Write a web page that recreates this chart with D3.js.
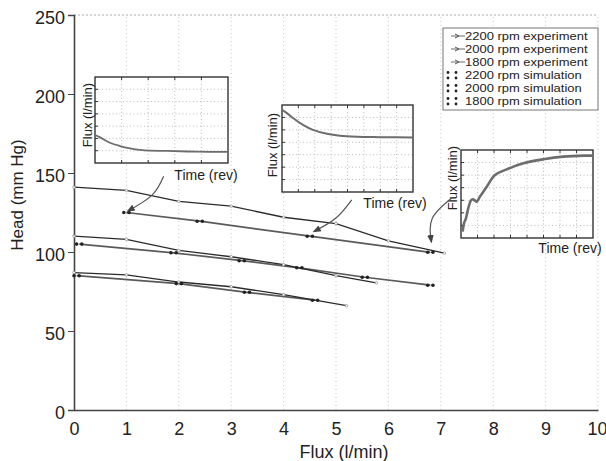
<!DOCTYPE html>
<html>
<head>
<meta charset="utf-8">
<script src="https://cdn.jsdelivr.net/npm/d3@7"></script>
<style>
body{margin:0;background:#fff;}
svg text{font-family:'Liberation Sans',Arial,sans-serif;fill:#222;}
</style>
</head>
<body>
<div id="canvas" class="canvas" style="width:606px;height:461px"></div>
<script>
// ---- data ----
var xTicks = [0,1,2,3,4,5,6,7,8,9,10];
var yTicks = [0,50,100,150,200,250];
var legendLabels = ['2200 rpm experiment','2000 rpm experiment','1800 rpm experiment',
                    '2200 rpm simulation','2000 rpm simulation','1800 rpm simulation'];

// flux (l/min), head (mm Hg)
var exp2200 = [[0,141],[1,139],[2,132],[3,129],[4,122],[5,118],[6,107],[7.07,99.3]];
var exp2000 = [[0,110],[1,108],[2,101],[3,97],[4,92],[5,85],[5.77,80.5]];
var exp1800 = [[0,87],[1,85.5],[2,81],[3,78],[4,73],[5.2,66]];
var sim2200 = [[1.0,125],[2.4,119.5],[4.5,110],[6.8,99.8]];
var sim2000 = [[0.1,105],[1.9,99.5],[3.2,94.5],[4.3,90],[5.55,84],[6.8,79]];
var sim1800 = [[0.05,85],[2.0,80],[3.3,74.5],[4.6,69.5]];

// inset transients, in grid units (time, flux)
var inset1Time = [0,0.19,0.56,0.94,1.32,1.69,2.07,2.71,3.83,5];
var inset1Flux = [2.28,2.09,1.65,1.38,1.19,1.06,1.0,0.98,0.92,0.9];
var inset2Time = [0,0.3,0.67,1.28,1.89,2.74,3.54,4.57,5.98,8];
var inset2Flux = [6.6,6.35,5.95,5.4,5.0,4.68,4.52,4.44,4.41,4.38];
var inset3Time = [0.1,0.18,0.3,0.44,0.59,0.71,0.85,0.95,1.15,1.56,2.06,2.77,3.78,4.99,6.2,7.47,8];
var inset3Flux = [0.5,1.17,1.57,2.36,2.97,3.08,2.97,2.89,3.29,4.08,5.01,5.46,5.94,6.26,6.47,6.55,6.55];

// annotation arrows in main chart units
var arrow1 = [[1.71,148],[1.49,136],[1.03,126]];
var arrow2 = [[5.3,133],[5.0,121.5],[4.58,113]];
var arrow3 = [[7.22,134.5],[6.84,121.5],[6.82,106.5]];

// ---- layout ----
var W = 606, H = 461;
var m = {t:15, r:8, b:51, l:74};

var svg = d3.select('.canvas').append('svg')
    .attr('width', W).attr('height', H);

var x = d3.scaleLinear().domain([0,10]).range([m.l, W - m.r]);
var y = d3.scaleLinear().domain([0,250]).range([H - m.b, m.t]);

svg.append('defs').append('marker')
    .attr('id','arr').attr('viewBox','0 0 10 10')
    .attr('refX',8).attr('refY',5)
    .attr('markerWidth',7).attr('markerHeight',7)
    .attr('orient','auto')
    .append('path').attr('d','M0,1 L10,5 L0,9 z').attr('fill','#444');

//grid
svg.append('g').selectAll('line').data(xTicks.slice(1))
    .enter().append('line')
    .attr('x1',function(d){return x(d);}).attr('x2',function(d){return x(d);})
    .attr('y1',y(0)).attr('y2',y(250))
    .attr('stroke','#c8c8c8').attr('stroke-width',1).attr('stroke-dasharray','1,3');
svg.append('line')
    .attr('x1',x(0)).attr('x2',x(10)).attr('y1',y(250)).attr('y2',y(250))
    .attr('stroke','#aaa').attr('stroke-dasharray','2,2');

//axes
var xAxis = svg.append('g').attr('transform','translate(0,'+y(0)+')')
    .call(d3.axisBottom(x).tickValues(xTicks).tickSize(0).tickPadding(12));
var yAxis = svg.append('g').attr('transform','translate('+x(0)+',0)')
    .call(d3.axisLeft(y).tickValues(yTicks).tickSize(6).tickPadding(3));
[xAxis,yAxis].forEach(function(a){
    a.select('.domain').attr('stroke','#444').attr('stroke-width',1.6);
    a.selectAll('.tick line').attr('stroke','#444');
    a.selectAll('text').style('font-size','18px').style('fill','#222');
});
yAxis.selectAll('text').attr('dy','0.45em');
xAxis.selectAll('.tick text').filter(function(d){return d === 10;})
    .attr('text-anchor','end').attr('dx','9px');

svg.append('text').attr('x',(x(0)+x(10))/2+8).attr('y',458)
    .attr('text-anchor','middle').style('font-size','18px').text('Flux (l/min)');
svg.append('text').attr('transform','translate(23,195) rotate(-90)')
    .attr('text-anchor','middle').style('font-size','17px').text('Head (mm Hg)');

//series
var line = d3.line().x(function(d){return x(d[0]);}).y(function(d){return y(d[1]);});
var simSets = [sim2200, sim2000, sim1800];
var expSets = [exp2200, exp2000, exp1800];

svg.append('g').selectAll('path').data(simSets).enter().append('path')
    .attr('d',line).attr('fill','none').attr('stroke','#5a5a5a').attr('stroke-width',1.7);
svg.append('g').selectAll('path').data(expSets).enter().append('path')
    .attr('d',line).attr('fill','none').attr('stroke','#2b2b2b').attr('stroke-width',1.3);

expSets.forEach(function(s){
    svg.append('g').selectAll('circle').data(s).enter().append('circle')
        .attr('cx',function(d){return x(d[0]);}).attr('cy',function(d){return y(d[1]);})
        .attr('r',1.3).attr('fill','#fff').attr('stroke','#888').attr('stroke-width',0.7);
});
simSets.forEach(function(s){
    var g = svg.append('g').selectAll('g').data(s).enter().append('g')
        .attr('transform',function(d){return 'translate('+x(d[0])+','+y(d[1])+')';});
    g.append('circle').attr('cx',-2.6).attr('r',1.8).attr('fill','#222');
    g.append('circle').attr('cx',2.6).attr('r',1.8).attr('fill','#222');
});

//insets
var insets = [
    {box:[95,77,133,86], nx:5, ny:7, t:inset1Time, f:inset1Flux, sw:1.8,
     ylab:[87,115], xlab:[206,180]},
    {box:[282,105,131,87], nx:8, ny:7, t:inset2Time, f:inset2Flux, sw:2,
     ylab:[272,145], xlab:[395,208]},
    {box:[461,150,132,88], nx:8, ny:7, t:inset3Time, f:inset3Flux, sw:2.6,
     ylab:[452,178], xlab:[570,253]}
];

insets.forEach(function(ins){
    var b = ins.box;
    var ix = d3.scaleLinear().domain([0,ins.nx]).range([b[0], b[0]+b[2]]);
    var iy = d3.scaleLinear().domain([0,ins.ny]).range([b[1]+b[3], b[1]]);
    var g = svg.append('g');
    g.append('rect').attr('x',b[0]).attr('y',b[1]).attr('width',b[2]).attr('height',b[3])
        .attr('fill','#fff');
    g.selectAll('.vg').data(d3.range(1,ins.nx)).enter().append('line')
        .attr('x1',ix).attr('x2',ix).attr('y1',b[1]).attr('y2',b[1]+b[3])
        .attr('stroke','#bbb').attr('stroke-dasharray','1,2.5');
    g.selectAll('.hg').data(d3.range(1,ins.ny)).enter().append('line')
        .attr('y1',iy).attr('y2',iy).attr('x1',b[0]).attr('x2',b[0]+b[2])
        .attr('stroke','#bbb').attr('stroke-dasharray','1,2.5');
    //ticks on the frame
    g.selectAll('.tb').data(d3.range(1,ins.nx)).enter().append('line')
        .attr('x1',ix).attr('x2',ix).attr('y1',b[1]+b[3]).attr('y2',b[1]+b[3]-3)
        .attr('stroke','#333');
    g.selectAll('.tt').data(d3.range(1,ins.nx)).enter().append('line')
        .attr('x1',ix).attr('x2',ix).attr('y1',b[1]).attr('y2',b[1]+3)
        .attr('stroke','#333');
    g.selectAll('.tl').data(d3.range(1,ins.ny)).enter().append('line')
        .attr('y1',iy).attr('y2',iy).attr('x1',b[0]).attr('x2',b[0]+3)
        .attr('stroke','#333');
    g.append('rect').attr('x',b[0]).attr('y',b[1]).attr('width',b[2]).attr('height',b[3])
        .attr('fill','none').attr('stroke','#333').attr('stroke-width',1.4);
    var pts = ins.t.map(function(t,i){return [t, ins.f[i]];});
    g.append('path')
        .attr('d', d3.line().curve(d3.curveCatmullRom)
            .x(function(d){return ix(d[0]);}).y(function(d){return iy(d[1]);})(pts))
        .attr('fill','none').attr('stroke','#6d6d6d').attr('stroke-width',ins.sw);
    g.append('text').attr('transform','translate('+ins.ylab[0]+','+ins.ylab[1]+') rotate(-90)')
        .attr('text-anchor','middle').attr('dy','0.35em').style('font-size','13px').text('Flux (l/min)');
    g.append('text').attr('x',ins.xlab[0]).attr('y',ins.xlab[1])
        .attr('text-anchor','middle').style('font-size','14px').text('Time (rev)');
});

//arrows
var aline = d3.line().curve(d3.curveNatural)
    .x(function(d){return x(d[0]);}).y(function(d){return y(d[1]);});
svg.append('g').selectAll('path').data([arrow1,arrow2,arrow3]).enter().append('path')
    .attr('d',aline).attr('fill','none').attr('stroke','#555').attr('stroke-width',1.2)
    .attr('marker-end','url(#arr)');

//legend
var lg = svg.append('g');
lg.append('rect').attr('x',443).attr('y',28).attr('width',155).attr('height',82)
    .attr('fill','#fff').attr('stroke','#777').attr('stroke-width',1);
var ly = d3.scalePoint().domain(legendLabels).range([36,101]);
var rows = lg.selectAll('g').data(legendLabels).enter().append('g')
    .attr('transform',function(d){return 'translate(0,'+ly(d)+')';});
rows.append('text').attr('transform','translate(465,0) scale(1.18,1)')
    .attr('dy','0.35em').style('font-size','11px')
    .text(function(d){return d;});
rows.filter(function(d,i){return i<3;}).each(function(){
    var r = d3.select(this);
    r.append('line').attr('x1',451).attr('x2',465).attr('stroke','#777').attr('stroke-width',1.1);
    r.append('path').attr('d','M455,-2 L459,0 L455,2').attr('fill','none').attr('stroke','#555');
});
rows.filter(function(d,i){return i>=3;}).each(function(){
    var r = d3.select(this);
    r.append('circle').attr('cx',448).attr('cy',-2.5).attr('r',1.4).attr('fill','#222');
    r.append('circle').attr('cx',456).attr('cy',-2.5).attr('r',1.4).attr('fill','#222');
    r.append('circle').attr('cx',448).attr('cy',3).attr('r',1.4).attr('fill','#222');
    r.append('circle').attr('cx',456).attr('cy',3).attr('r',1.4).attr('fill','#222');
});
</script>
</body>
</html>
